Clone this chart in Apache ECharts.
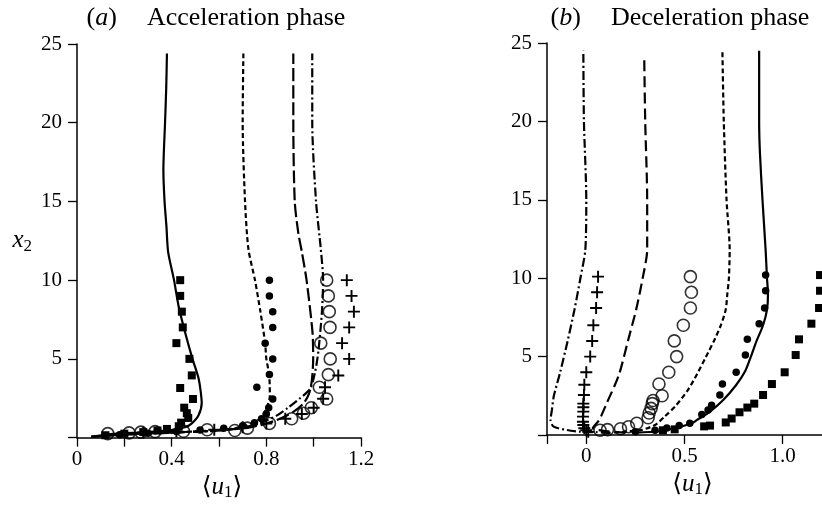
<!DOCTYPE html>
<html>
<head>
<meta charset="utf-8">
<script src="https://cdn.jsdelivr.net/npm/echarts@6.0.0/dist/echarts.min.js"></script>
<style>
	html, body { margin: 0; padding: 0; background: #fff; }
	#chart { width: 822px; height: 506px; }
</style>
</head>
<body>
<div id="chart"></div>
<script>
// (a) Acceleration phase  -- [u1, x2]
var accSolid = [[0.06, 0.05], [0.14, 0.22], [0.28, 0.34], [0.39, 0.46], [0.46, 0.68], [0.485, 0.9], [0.513, 1.4], [0.527, 2.2], [0.522, 3.0], [0.513, 3.8], [0.488, 5], [0.46, 6.5], [0.43, 8.3], [0.41, 10], [0.385, 11.8], [0.378, 13.4], [0.37, 15], [0.365, 17], [0.372, 20], [0.377, 22.2], [0.38, 24.4]];
var accShortDash = [[0.06, 0.05], [0.2, 0.2], [0.4, 0.33], [0.605, 0.45], [0.66, 0.57], [0.717, 0.78], [0.773, 1.2], [0.8, 1.84], [0.815, 2.68], [0.812, 4], [0.8, 5], [0.795, 6], [0.775, 8], [0.752, 10], [0.724, 12], [0.71, 15], [0.7, 20], [0.703, 24.4]];
var accLongDash = [[0.06, 0.05], [0.2, 0.2], [0.4, 0.32], [0.6, 0.47], [0.72, 0.62], [0.8, 0.89], [0.858, 1.2], [0.914, 1.63], [0.956, 2.15], [0.98, 2.78], [0.992, 3.6], [0.998, 5], [0.995, 6.7], [0.97, 10], [0.95, 11.8], [0.935, 13], [0.92, 15], [0.914, 20], [0.914, 24.4]];
var accDashDot = [[0.06, 0.05], [0.2, 0.2], [0.4, 0.31], [0.6, 0.45], [0.72, 0.7], [0.79, 1.03], [0.845, 1.41], [0.89, 1.88], [0.94, 2.47], [0.985, 3.1], [1.006, 4.16], [1.02, 5.5], [1.035, 8], [1.04, 10], [1.03, 12], [1.01, 15], [0.994, 20], [0.994, 24.4]];
var accSquare = [[0.436, 10], [0.436, 9], [0.443, 8], [0.447, 7], [0.42, 6], [0.475, 5], [0.485, 3.95], [0.436, 3.15], [0.49, 2.45], [0.453, 1.9], [0.464, 1.55], [0.47, 1.25], [0.44, 0.95], [0.43, 0.72], [0.38, 0.55], [0.34, 0.45], [0.28, 0.35], [0.2, 0.25], [0.12, 0.15]];
var accDot = [[0.813, 10], [0.813, 9], [0.827, 8], [0.827, 7], [0.795, 6], [0.827, 5], [0.813, 4], [0.76, 3.2], [0.827, 2.45], [0.81, 1.9], [0.8, 1.5], [0.78, 1.2], [0.75, 0.95], [0.7, 0.75], [0.62, 0.6], [0.52, 0.48], [0.42, 0.38], [0.3, 0.28], [0.18, 0.18]];
var accCircle = [[1.055, 10], [1.062, 9], [1.066, 8], [1.069, 7], [1.03, 6], [1.07, 5], [1.062, 4], [1.024, 3.2], [1.055, 2.45], [0.99, 1.9], [0.957, 1.55], [0.907, 1.2], [0.813, 0.9], [0.72, 0.6], [0.667, 0.45], [0.55, 0.5], [0.45, 0.4], [0.33, 0.38], [0.27, 0.35], [0.22, 0.3], [0.13, 0.25]];
var accPlus = [[1.14, 10], [1.16, 9], [1.17, 8], [1.15, 7], [1.12, 6], [1.15, 5], [1.104, 3.94], [1.048, 3.2], [1.04, 2.47], [1.0, 1.9], [0.95, 1.5], [0.88, 1.2], [0.8, 0.9], [0.7, 0.65], [0.58, 0.5], [0.42, 0.4], [0.28, 0.32]];

// (b) Deceleration phase
var decSolid = [[0.25, 0.15], [0.37, 0.24], [0.453, 0.45], [0.54, 0.77], [0.564, 0.96], [0.63, 1.49], [0.697, 2.23], [0.763, 3.19], [0.81, 4.1], [0.838, 5], [0.867, 6], [0.9, 7], [0.92, 8], [0.925, 9], [0.92, 10], [0.913, 11.8], [0.897, 15], [0.884, 18], [0.88, 20], [0.88, 24.5]];
var decShortDash = [[0.1, 0.12], [0.2, 0.22], [0.287, 0.34], [0.353, 0.66], [0.4, 1.19], [0.453, 1.83], [0.519, 2.9], [0.569, 4], [0.61, 5], [0.65, 6], [0.685, 7], [0.71, 8], [0.718, 9], [0.726, 10], [0.73, 11.8], [0.714, 15], [0.7, 20], [0.693, 24.5]];
var decLongDash = [[0.2, 0.15], [0.1, 0.25], [0.033, 0.43], [0.066, 0.96], [0.1, 1.91], [0.166, 3.83], [0.212, 6], [0.254, 8], [0.287, 10], [0.31, 11.8], [0.31, 15], [0.3, 20], [0.295, 24.1]];
var decDashDot = [[0.12, 0.15], [0.05, 0.18], [-0.033, 0.21], [-0.1, 0.32], [-0.166, 0.53], [-0.182, 0.96], [-0.175, 1.6], [-0.165, 2.5], [-0.133, 4], [-0.095, 6], [-0.06, 8], [-0.03, 10], [-0.005, 11.8], [0.0, 15], [-0.012, 20], [-0.015, 24.5]];
var decSquare = [[1.19, 10.2], [1.19, 9.2], [1.185, 8.1], [1.146, 7.1], [1.083, 6.1], [1.066, 5.1], [1.01, 4.0], [0.945, 3.25], [0.9, 2.55], [0.855, 2.0], [0.82, 1.75], [0.78, 1.45], [0.74, 1.05], [0.71, 0.8], [0.63, 0.6], [0.6, 0.55], [0.45, 0.36], [0.39, 0.3]];
var decDot = [[0.913, 10.2], [0.913, 9.2], [0.908, 8.1], [0.88, 7.1], [0.82, 6.1], [0.81, 5.1], [0.763, 4.0], [0.693, 3.25], [0.68, 2.55], [0.638, 1.9], [0.62, 1.6], [0.588, 1.3], [0.527, 0.75], [0.473, 0.6], [0.41, 0.45], [0.35, 0.3], [0.25, 0.2]];
var decCircle = [[0.53, 10.1], [0.535, 9.1], [0.53, 8.1], [0.494, 7], [0.448, 6], [0.46, 5], [0.42, 4], [0.37, 3.25], [0.386, 2.5], [0.34, 2.2], [0.336, 2.0], [0.33, 1.7], [0.32, 1.4], [0.315, 1.1], [0.257, 0.75], [0.215, 0.53], [0.174, 0.4], [0.108, 0.34], [0.07, 0.3]];
var decPlus = [[0.06, 10.1], [0.055, 9.1], [0.05, 8.1], [0.036, 7], [0.03, 6], [0.02, 5], [0.0, 4], [-0.01, 3.2], [-0.012, 2.55], [-0.015, 2.0], [-0.015, 1.77], [-0.015, 1.49], [-0.017, 1.17], [-0.017, 0.85], [-0.015, 0.64], [-0.01, 0.43], [0.0, 0.3], [0.01, 0.2]];

// axis ticks / labels
var accXTicks = [0, 0.2, 0.4, 0.6, 0.8, 1.0, 1.2];
var accXLabels = [0, 0.4, 0.8, 1.2];
var decXTicks = [-0.2, 0, 0.5, 1.0];
var decXLabels = [0, 0.5, 1.0];

var FONT = "'Liberation Serif', 'DejaVu Serif', serif";
var PLUS = 'path://M0,4.2H10V5.8H0Z M4.2,0H5.8V10H4.2Z';

var myChart = echarts.init(document.getElementById('chart'));

function lineSeries(data, dash, idx) {
	return {
		type: 'line',
		xAxisIndex: idx,
		yAxisIndex: idx,
		data: data,
		showSymbol: false,
		smooth: 0.25,
		silent: true,
		lineStyle: { color: '#000', width: 2.2, type: dash }
	};
}

function markSeries(data, symbol, size, idx, open) {
	return {
		type: 'scatter',
		xAxisIndex: idx,
		yAxisIndex: idx,
		data: data,
		symbol: symbol,
		symbolSize: size,
		silent: true,
		itemStyle: open ? { color: 'rgba(0,0,0,0)', borderColor: '#000', borderWidth: 1.6 } : { color: '#000', opacity: 1 }
	};
}

function tok(size, italic, extra) {
	var s = { fontFamily: FONT, fontSize: size, fontWeight: 'normal', fontStyle: italic ? 'italic' : 'normal', color: '#000' };
	for (var k in extra) s[k] = extra[k];
	return s;
}

var richName = {
	a: tok(25, false, { lineHeight: 28 }),
	it: tok(25, true, { lineHeight: 28 }),
	sub: tok(17, false, { lineHeight: 14, verticalAlign: 'bottom' })
};

var richNum = { n: tok(21, false) };

function xAxisOpt(idx, min, max, tickVals, labelVals, padLeft) {
	return {
		type: 'value',
		gridIndex: idx,
		min: min,
		max: max,
		name: '{a|\u27e8}{it|u}{sub|1}{a|\u27e9}',
		nameLocation: 'middle',
		nameGap: 34,
		nameTextStyle: { rich: richName, padding: [0, 0, 0, padLeft] },
		splitLine: { show: false },
		axisLine: { onZero: false, lineStyle: { color: '#000', width: 1.5 } },
		axisTick: { length: 9, customValues: tickVals, lineStyle: { color: '#000', width: 1.3 } },
		axisLabel: {
			customValues: labelVals,
			margin: 11,
			color: '#000',
			fontFamily: FONT,
			fontSize: 21,
			rich: richNum,
			formatter: function (v) { return '{n|' + (v === 0 ? '0' : v.toFixed(1)) + '}'; }
		}
	};
}

function yAxisOpt(idx, withName) {
	return {
		type: 'value',
		gridIndex: idx,
		min: 0,
		max: 25,
		interval: 5,
		name: withName ? '{it|x}{sub|2}' : '',
		nameLocation: 'middle',
		nameRotate: 0,
		nameGap: 45,
		nameTextStyle: { rich: richName },
		splitLine: { show: false },
		axisLine: { onZero: false, lineStyle: { color: '#000', width: 1.5 } },
		axisTick: { length: 9, lineStyle: { color: '#000', width: 1.3 } },
		axisLabel: {
			margin: 15,
			color: '#000',
			fontFamily: FONT,
			fontSize: 21,
			rich: richNum,
			formatter: function (v) { return v === 0 ? '' : '{n|' + v + '}'; }
		}
	};
}

var titleRich = {
	p: tok(26, false),
	i: tok(26, true),
	g: tok(26, false, { width: 30 }),
	t: tok(26, false)
};

var option = {
	animation: false,
	backgroundColor: '#fff',
	textStyle: { fontFamily: FONT },
	title: [{
		text: '{p|(}{i|a}{p|)}{g| }{t|Acceleration phase}',
		left: 216,
		top: 5,
		textAlign: 'center',
		padding: 0,
		textStyle: { fontWeight: 'normal', fontFamily: FONT, rich: titleRich }
	}, {
		text: '{p|(}{i|b}{p|)}{g| }{t|Deceleration phase}',
		left: 680,
		top: 5,
		textAlign: 'center',
		padding: 0,
		textStyle: { fontWeight: 'normal', fontFamily: FONT, rich: titleRich }
	}],
	grid: [
		{ left: 77, top: 44, width: 284, height: 395 },
		{ left: 547, top: 43, width: 281, height: 392 }
	],
	xAxis: [
		xAxisOpt(0, 0, 1.2, accXTicks, accXLabels, 6),
		xAxisOpt(1, -0.2, 1.2, decXTicks, decXLabels, 16)
	],
	yAxis: [yAxisOpt(0, true), yAxisOpt(1, false)],
	series: [
		lineSeries(accSolid, 'solid', 0),
		lineSeries(accShortDash, [5, 3], 0),
		lineSeries(accLongDash, [13, 4], 0),
		lineSeries(accDashDot, [9, 3, 2, 3], 0),
		markSeries(accSquare, 'rect', 8, 0),
		markSeries(accDot, 'circle', 7.5, 0),
		markSeries(accCircle, 'circle', 12, 0, true),
		markSeries(accPlus, PLUS, 12, 0),
		lineSeries(decSolid, 'solid', 1),
		lineSeries(decShortDash, [5, 3], 1),
		lineSeries(decLongDash, [11, 5], 1),
		lineSeries(decDashDot, [9, 3, 2, 3], 1),
		markSeries(decSquare, 'rect', 8, 1),
		markSeries(decDot, 'circle', 7.5, 1),
		markSeries(decCircle, 'circle', 12, 1, true),
		markSeries(decPlus, PLUS, 12, 1)
	]
};
myChart.setOption(option);
</script>
</body>
</html>
